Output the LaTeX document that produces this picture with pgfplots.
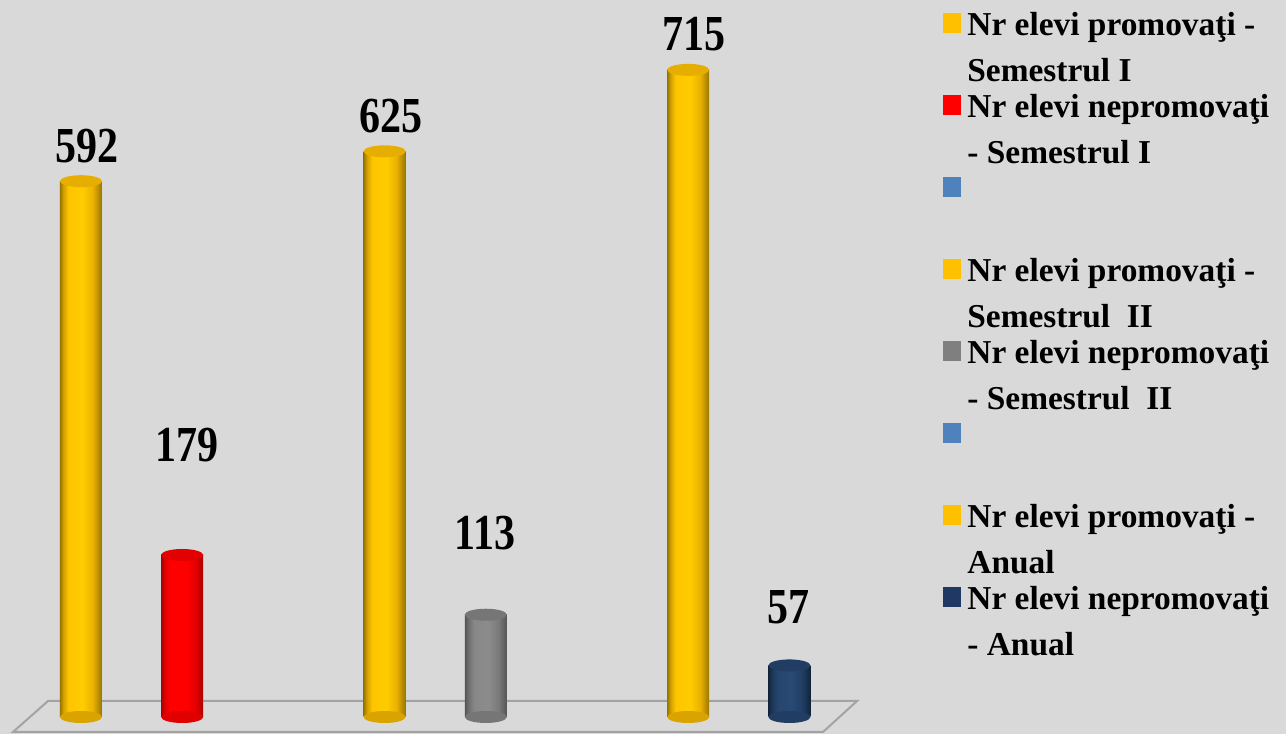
\documentclass[border=0pt]{standalone}
\usepackage{fontspec}
\setmainfont{Liberation Serif}
\usepackage{graphicx}
\usepackage{pgfplots}
\pgfplotsset{compat=1.18}

\definecolor{bg}{HTML}{D9D9D9}
\definecolor{floorline}{HTML}{A3A3A3}
\definecolor{gold}{HTML}{FFC000}
\definecolor{goldtop}{HTML}{E6AE00}
\definecolor{redtop}{HTML}{E30000}
\definecolor{greytop}{HTML}{767676}
\definecolor{greyleg}{HTML}{7F7F7F}
\definecolor{navytop}{HTML}{213D63}
\definecolor{navyleg}{HTML}{1F3864}
\definecolor{blueleg}{HTML}{4F81BD}

% cylinder body shadings (25bp..75bp spans the bar)
\pgfdeclarehorizontalshading{cylgold}{100bp}{%
  rgb(0bp)=(0.60,0.46,0); rgb(25bp)=(0.60,0.46,0); rgb(29bp)=(0.82,0.63,0);
  rgb(35bp)=(1,0.77,0); rgb(52bp)=(1,0.80,0); rgb(64bp)=(0.92,0.70,0);
  rgb(75bp)=(0.60,0.46,0); rgb(100bp)=(0.60,0.46,0)}
\pgfdeclarehorizontalshading{cylred}{100bp}{%
  rgb(0bp)=(0.66,0,0); rgb(25bp)=(0.66,0,0); rgb(29bp)=(0.86,0,0);
  rgb(35bp)=(1,0,0); rgb(55bp)=(1,0,0); rgb(66bp)=(0.90,0,0);
  rgb(75bp)=(0.66,0,0); rgb(100bp)=(0.66,0,0)}
\pgfdeclarehorizontalshading{cylgrey}{100bp}{%
  rgb(0bp)=(0.33,0.33,0.33); rgb(25bp)=(0.33,0.33,0.33); rgb(29bp)=(0.43,0.43,0.43);
  rgb(36bp)=(0.53,0.53,0.53); rgb(52bp)=(0.55,0.55,0.55); rgb(65bp)=(0.48,0.48,0.48);
  rgb(75bp)=(0.33,0.33,0.33); rgb(100bp)=(0.33,0.33,0.33)}
\pgfdeclarehorizontalshading{cylnavy}{100bp}{%
  rgb(0bp)=(0.07,0.14,0.23); rgb(25bp)=(0.07,0.14,0.23); rgb(29bp)=(0.11,0.21,0.34);
  rgb(36bp)=(0.15,0.27,0.43); rgb(52bp)=(0.16,0.29,0.46); rgb(65bp)=(0.13,0.24,0.39);
  rgb(75bp)=(0.07,0.14,0.23); rgb(100bp)=(0.07,0.14,0.23)}

% cylinder cap, drawn as a plot mark
\pgfdeclareplotmark{cyl}{%
  \pgfpathellipse{\pgfpointorigin}{\pgfqpoint{10.5pt}{0pt}}{\pgfqpoint{0pt}{3pt}}%
  \pgfusepathqfill}

\newcommand{\legtxt}[2]{\parbox[t]{160pt}{\raggedright\setlength{\baselineskip}{23.25pt}#1\\#2}}

\pgfplotsset{
  cylbar/.style 2 args={ybar, bar width=21pt, bar shift=0pt, draw=none,
    shading=#1, mark=cyl, mark options={fill=#2, draw=none}, forget plot},
  cylbase/.style={only marks, mark=cyl, mark options={fill=#1, draw=none}, forget plot},
  lab/.style 2 args={nodes near coords={\scalebox{1}[1.2]{\pgfmathprintnumber[assume math mode=true]{\pgfplotspointmeta}}},
    nodes near coords align={anchor=base},
    every node near coord/.append style={anchor=base, xshift=#1, yshift=#2,
      text=black, font=\bfseries\fontsize{21}{21}\selectfont}},
}

\begin{document}
\begin{tikzpicture}
\fill[bg] (0,0) rectangle (643pt,367pt);
% floor
\draw[floorline, line width=1pt] (6.5pt,1pt) -- (24pt,16.5pt) -- (428.5pt,16.5pt) -- (411.5pt,1pt) -- cycle;

\begin{axis}[
    at={(0pt,8.5pt)}, anchor=south west,
    scale only axis,
    width=435.2pt, height=357.5pt,
    xmin=-0.8, xmax=7.8,
    ymin=0, ymax=790,
    hide axis,
    clip=false,
    legend image code/.code={\fill[#1] (0pt,1pt) rectangle (9.2pt,11pt);},
    legend style={
        at={(1.0834,0.9846)}, anchor=north west,
        draw=none, fill=none, inner sep=0pt, outer sep=0pt,
        row sep=0pt, column sep=3pt,
        cells={anchor=base west},
        nodes={inner sep=0pt, text height=11pt, text depth=30pt, anchor=base west},
        font=\bfseries\fontsize{16.7}{23.25}\selectfont},
]
% bases of the cylinders
\addplot[cylbase=gold!85!black] coordinates {(0,0) (3,0) (6,0)};
\addplot[cylbase=red!88!black] coordinates {(1,0)};
\addplot[cylbase=greytop] coordinates {(4,0)};
\addplot[cylbase=navytop] coordinates {(7,0)};

% promovati
\addplot[cylbar={cylgold}{goldtop}, lab={3pt}{9.5pt}] coordinates {(0,592)};
\addplot[cylbar={cylgold}{goldtop}, lab={3pt}{9.5pt}] coordinates {(3,625)};
\addplot[cylbar={cylgold}{goldtop}, lab={3pt}{9.5pt}] coordinates {(6,715)};
% nepromovati
\addplot[cylbar={cylred}{redtop}, lab={2.3pt}{46.5pt}] coordinates {(1,179)};
\addplot[cylbar={cylgrey}{greytop}, lab={-0.5pt}{32.5pt}] coordinates {(4,113)};
\addplot[cylbar={cylnavy}{navytop}, lab={-0.5pt}{21pt}] coordinates {(7,57)};

\addlegendimage{fill=gold, draw=none}
\addlegendentry{\legtxt{Nr elevi promovaţi -}{Semestrul I}}
\addlegendimage{fill=red, draw=none}
\addlegendentry{\legtxt{Nr elevi nepromovaţi}{- Semestrul I}}
\addlegendimage{fill=blueleg, draw=none}
\addlegendentry{}
\addlegendimage{fill=gold, draw=none}
\addlegendentry{\legtxt{Nr elevi promovaţi -}{Semestrul\ \ II}}
\addlegendimage{fill=greyleg, draw=none}
\addlegendentry{\legtxt{Nr elevi nepromovaţi}{- Semestrul\ \ II}}
\addlegendimage{fill=blueleg, draw=none}
\addlegendentry{}
\addlegendimage{fill=gold, draw=none}
\addlegendentry{\legtxt{Nr elevi promovaţi -}{Anual}}
\addlegendimage{fill=navyleg, draw=none}
\addlegendentry{\legtxt{Nr elevi nepromovaţi}{- Anual}}
\end{axis}
\pgfresetboundingbox
\useasboundingbox (0,0) rectangle (643pt,367pt);
\end{tikzpicture}
\end{document}
